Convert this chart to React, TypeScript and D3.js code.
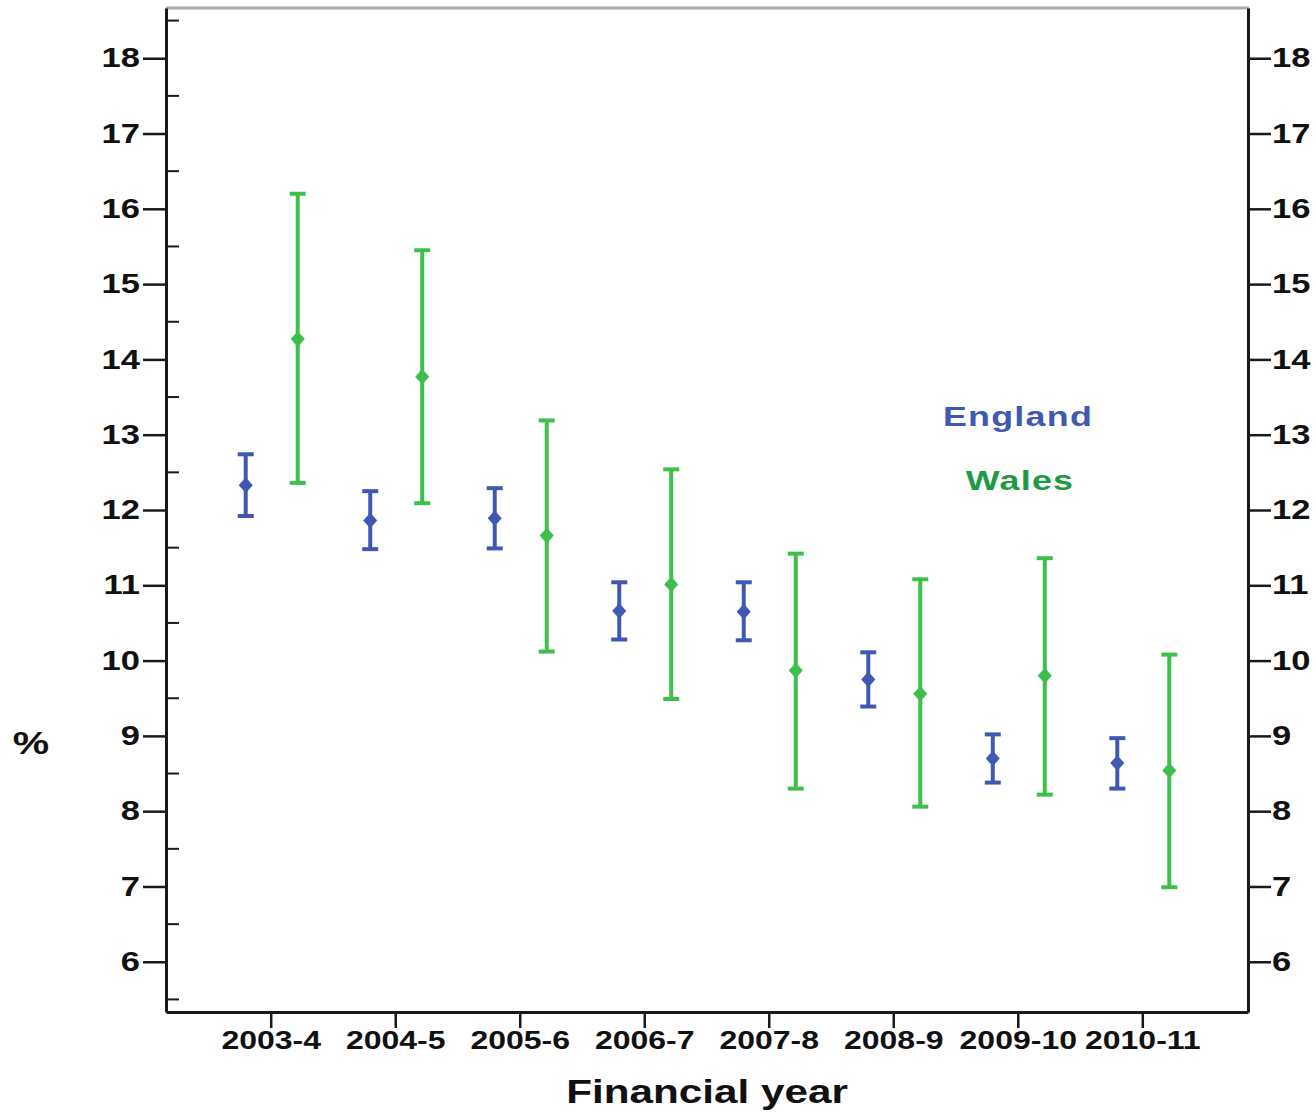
import React, { useRef, useEffect } from 'react';
import * as d3 from 'd3';

// Financial years on the x axis
const years = ['2003-4', '2004-5', '2005-6', '2006-7', '2007-8', '2008-9', '2009-10', '2010-11'];

// England: mean with lower / upper confidence limits (%)
const englandMean = [12.33, 11.86, 11.89, 10.66, 10.65, 9.75, 8.70, 8.64];
const englandLow = [11.92, 11.48, 11.49, 10.28, 10.27, 9.39, 8.38, 8.30];
const englandHigh = [12.74, 12.25, 12.29, 11.04, 11.04, 10.11, 9.02, 8.97];

// Wales: mean with lower / upper confidence limits (%)
const walesMean = [14.27, 13.77, 11.66, 11.01, 9.87, 9.56, 9.80, 8.54];
const walesLow = [12.36, 12.09, 10.12, 9.49, 8.30, 8.06, 8.22, 6.99];
const walesHigh = [16.2, 15.45, 13.19, 12.54, 11.42, 11.08, 11.36, 10.08];

const yMajorTicks = [6, 7, 8, 9, 10, 11, 12, 13, 14, 15, 16, 17, 18];
const yMinorTicks = [5.5, 6.5, 7.5, 8.5, 9.5, 10.5, 11.5, 12.5, 13.5, 14.5, 15.5, 16.5, 17.5, 18.5];

const ENGLAND_COLOR = '#3f59b3';
const WALES_COLOR = '#3dbf4c';
const WALES_TEXT = '#1c9a44';
const FONT = '"Liberation Sans", Arial, sans-serif';
const STRETCH = 1.28; // the original text is drawn horizontally stretched

const App = () => {
  const svgRef = useRef<SVGSVGElement | null>(null);

  useEffect(() => {
    if (!svgRef.current) return;
    const root = d3.select(svgRef.current);
    root.selectAll('*').remove();

    const width = 1316;
    const height = 1113;
    const left = 166, right = 1248, top = 8, bottom = 1012;

    const svg = root.attr('width', width).attr('height', height);

    const x = d3.scaleBand<string>()
      .domain(years)
      .range([left, right])
      .paddingInner(0)
      .paddingOuter(0.345);

    const y = d3.scaleLinear()
      .domain([5.333, 18.667])
      .range([bottom, top]);

    const cx = (yr: string) => (x(yr) as number) + x.bandwidth() / 2;

    // frame: light top border, dark axes
    svg.append('line')
      .attr('x1', left).attr('x2', right + 1)
      .attr('y1', top).attr('y2', top)
      .attr('stroke', '#aaaaaa').attr('stroke-width', 3);

    // left axis
    const yLeft = svg.append('g')
      .attr('transform', `translate(${left},0)`)
      .call(d3.axisLeft(y).tickValues(yMajorTicks).tickSize(23).tickSizeOuter(0).tickPadding(4).tickFormat(d3.format('d')));
    yLeft.select('.domain').attr('stroke', '#1a1a1a').attr('stroke-width', 3);
    yLeft.selectAll('.tick line').attr('stroke', '#1a1a1a').attr('stroke-width', 2.5);
    yLeft.selectAll('.tick text')
      .attr('font-family', FONT).attr('font-size', 27).attr('font-weight', 'bold').attr('fill', '#111')
      .attr('transform', `scale(${STRETCH},1)`)
      .attr('x', -26 / STRETCH);

    // inward minor ticks on left axis
    svg.append('g')
      .selectAll('line')
      .data(yMinorTicks)
      .enter()
      .append('line')
      .attr('x1', left).attr('x2', left + 13)
      .attr('y1', d => y(d)).attr('y2', d => y(d))
      .attr('stroke', '#1a1a1a').attr('stroke-width', 2);

    // right axis
    const yRight = svg.append('g')
      .attr('transform', `translate(${right},0)`)
      .call(d3.axisRight(y).tickValues(yMajorTicks).tickSize(23).tickSizeOuter(0).tickPadding(2).tickFormat(d3.format('d')));
    yRight.select('.domain').attr('stroke', '#1a1a1a').attr('stroke-width', 3);
    yRight.selectAll('.tick line').attr('stroke', '#1a1a1a').attr('stroke-width', 2.5);
    yRight.selectAll('.tick text')
      .attr('font-family', FONT).attr('font-size', 27).attr('font-weight', 'bold').attr('fill', '#111')
      .attr('transform', `scale(${STRETCH},1)`)
      .attr('x', 24 / STRETCH);

    // bottom axis
    const xAxis = svg.append('g')
      .attr('transform', `translate(0,${bottom})`)
      .call(d3.axisBottom(x).tickSize(16).tickSizeOuter(0).tickPadding(3));
    xAxis.select('.domain').attr('stroke', '#1a1a1a').attr('stroke-width', 3);
    xAxis.selectAll('.tick line').attr('stroke', '#1a1a1a').attr('stroke-width', 2.5);
    xAxis.selectAll('.tick text')
      .attr('font-family', FONT).attr('font-size', 25).attr('font-weight', 'bold').attr('fill', '#111')
      .attr('transform', `scale(${STRETCH},1)`);

    // error bars
    const series = [
      { name: 'England', color: ENGLAND_COLOR, offset: -25.5, mean: englandMean, low: englandLow, high: englandHigh },
      { name: 'Wales', color: WALES_COLOR, offset: 26.5, mean: walesMean, low: walesLow, high: walesHigh },
    ];

    const diamond = d3.symbol().type(d3.symbolDiamond).size(110);

    series.forEach(s => {
      const g = svg.append('g').attr('class', `bars-${s.name}`);
      years.forEach((yr, i) => {
        const px = cx(yr) + s.offset;
        g.append('line')
          .attr('x1', px).attr('x2', px)
          .attr('y1', y(s.low[i])).attr('y2', y(s.high[i]))
          .attr('stroke', s.color).attr('stroke-width', 4);
        [s.low[i], s.high[i]].forEach(v => {
          g.append('line')
            .attr('x1', px - 8).attr('x2', px + 8)
            .attr('y1', y(v)).attr('y2', y(v))
            .attr('stroke', s.color).attr('stroke-width', 4);
        });
        g.append('path')
          .attr('d', diamond)
          .attr('transform', `translate(${px},${y(s.mean[i])}) scale(1.25,0.8)`)
          .attr('fill', s.color);
      });
    });

    // in-plot legend text
    const legendText = (label: string, color: string, lx: number, ly: number) => {
      svg.append('text')
        .attr('transform', `translate(${lx},${ly}) scale(${STRETCH},1)`)
        .attr('text-anchor', 'middle')
        .attr('font-family', FONT)
        .attr('font-size', 28)
        .attr('font-weight', 'bold')
        .attr('letter-spacing', 1)
        .attr('fill', color)
        .text(label);
    };
    legendText('England', ENGLAND_COLOR, 1018, 426);
    legendText('Wales', WALES_TEXT, 1020, 490);

    // axis titles
    svg.append('text')
      .attr('transform', `translate(31,754) scale(${STRETCH},1)`)
      .attr('text-anchor', 'middle')
      .attr('font-family', FONT).attr('font-size', 32).attr('font-weight', 'bold').attr('fill', '#111')
      .text('%');

    svg.append('text')
      .attr('transform', `translate(707,1103) scale(${STRETCH},1)`)
      .attr('text-anchor', 'middle')
      .attr('font-family', FONT).attr('font-size', 33).attr('font-weight', 'bold').attr('fill', '#111')
      .text('Financial year');
  }, []);

  return (
    <div style={{ position: 'absolute', left: 0, top: 0, width: 1316, height: 1113, background: '#fff' }}>
      <svg ref={svgRef} style={{ display: 'block' }}></svg>
    </div>
  );
};

export default App;
